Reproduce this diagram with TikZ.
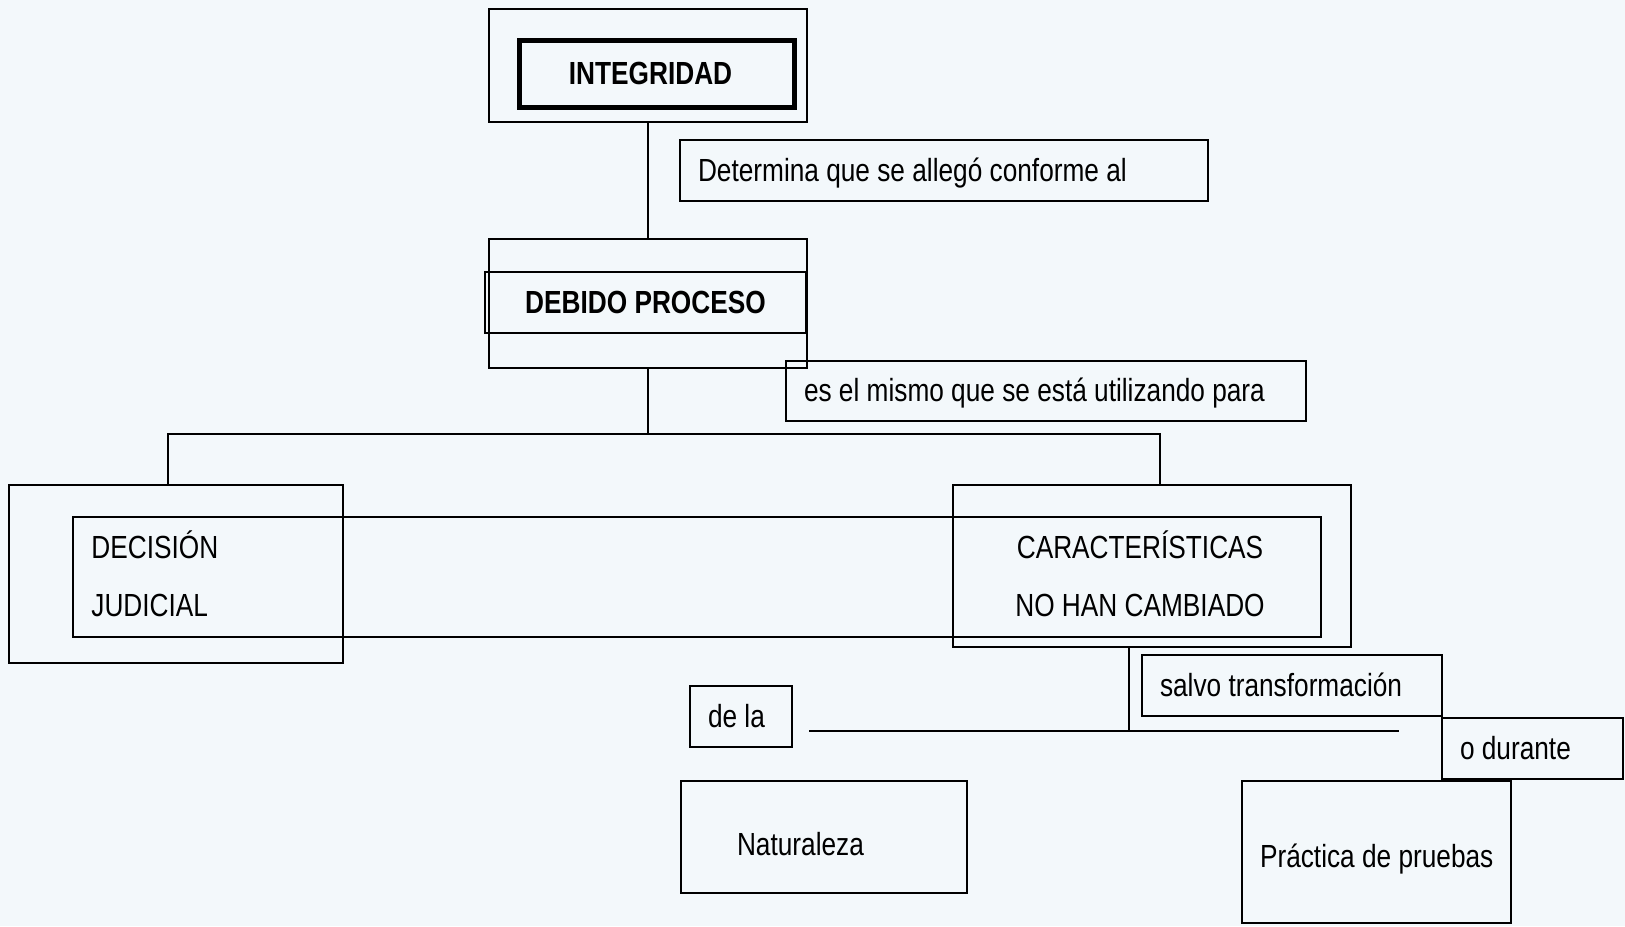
\documentclass[tikz,border=0pt]{standalone}
\usepackage{fontspec}
\setmainfont{Liberation Sans}[FakeStretch=0.82]
\usepackage{tikz}
\definecolor{paper}{RGB}{243,248,251}
\tikzset{
  frame/.style={draw,line width=1pt,inner sep=0pt},
  tag/.style={draw,line width=1pt,inner xsep=9pt,inner ysep=0pt,
    align=flush left,minimum height=30.5pt,text height=14pt,text depth=3.5pt,
    font=\fontsize{16}{19}\selectfont},
  head/.style={font=\fontsize{16}{19}\selectfont\bfseries},
  pair/.style={font=\fontsize{16}{29}\selectfont,inner sep=0pt},
  link/.style={line width=1pt}
}
\begin{document}
\begin{tikzpicture}[x=0.5pt,y=-0.5pt]
  \fill[paper] (0,0) rectangle (1625,926);
  \useasboundingbox (0,0) rectangle (1625,926);
  % upper chain
  \node[frame,minimum width=159pt,minimum height=56.5pt] (integOuter) at (648,65.5) {};
  \node[frame,line width=2.5pt,minimum width=137.5pt,minimum height=33.5pt,head] (integ) at (656.5,73.5) {\hspace*{-6pt}INTEGRIDAD};
  \node[tag,text width=246pt] (determina) at (944,170.5) {Determina que se allegó conforme al};
  \node[frame,minimum width=159pt,minimum height=64.5pt] (debOuter) at (648,303.5) {};
  \node[frame,minimum width=160.5pt,minimum height=30.5pt,head] (debido) at (645.5,302.5) {DEBIDO PROCESO};
  \node[tag,text width=242pt,minimum height=30pt] (mismo) at (1046,391) {\mbox{es el mismo que se está utilizando para}};
  % middle row
  \node[frame,minimum width=167pt,minimum height=89pt] (decOuter) at (176,574) {};
  \node[frame,minimum width=199pt,minimum height=81pt] (carOuter) at (1152,566) {};
  \node[frame,minimum width=624pt,minimum height=60pt] (band) at (697,577) {};
  \node[pair,align=left,anchor=west] (decision) at (91,574) {DECISIÓN\\JUDICIAL};
  \node[pair,align=center] (caract) at (1140,574) {CARACTERÍSTICAS\\NO HAN CAMBIADO};
  % lower part
  \node[tag,text width=132pt] (salvo) at (1292,685.5) {salvo transformación};
  \node[tag,text width=33pt] (dela) at (741,716.5) {de la};
  \node[tag,text width=72.5pt] (durante) at (1532.5,748.5) {o durante};
  \node[tag,text width=87pt,inner xsep=28pt,minimum height=56pt,text height=21.5pt] (naturaleza) at (824,837) {Naturaleza};
  \node[tag,text width=116.5pt,minimum height=71pt,text height=18.5pt] (practica) at (1376.5,852) {\mbox{Práctica de pruebas}};

  \coordinate (split) at (648,434);
  \coordinate (toDec) at (168,485);
  \coordinate (toCar) at (1160,485);
  \coordinate (joint) at (1129,731);
  \coordinate (lineL) at (809,731);
  \coordinate (lineR) at (1399,731);
  \draw[link] (integOuter.south) -- (debOuter.north);
  \draw[link] (debOuter.south) -- (split);
  \draw[link] (toDec) |- (split) -| (toCar);
  \draw[link] (carOuter.south -| joint) -- (joint);
  \draw[link] (lineL) -- (lineR);
\end{tikzpicture}
\end{document}
